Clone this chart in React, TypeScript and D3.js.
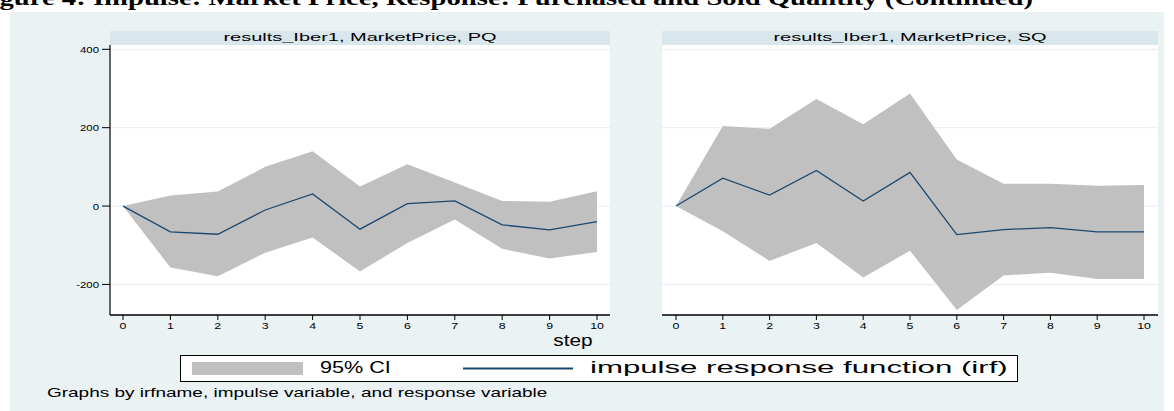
import * as d3 from "d3";
import React from "react";

// steps of the impulse response
const steps = [0, 1, 2, 3, 4, 5, 6, 7, 8, 9, 10];

// panel 1: impulse MarketPrice, response PQ
const pqIrf = [0, -66, -72, -10, 31, -59, 6, 13, -48, -61, -40];
const pqLower = [0, -157, -179, -119, -80, -167, -94, -34, -109, -134, -117];
const pqUpper = [0, 27, 37, 100, 140, 50, 107, 60, 13, 11, 38];

// panel 2: impulse MarketPrice, response SQ
const sqIrf = [0, 71, 28, 91, 13, 86, -73, -60, -55, -66, -66];
const sqLower = [0, -64, -140, -94, -182, -114, -265, -177, -170, -186, -186];
const sqUpper = [0, 204, 197, 273, 209, 287, 119, 57, 57, 52, 54];

const yTicks = [-200, 0, 200, 400];
const panelTitles = ["results_Iber1, MarketPrice, PQ", "results_Iber1, MarketPrice, SQ"];
const legendLabels = ["95% CI", "impulse response function (irf)"];
const xTitle = "step";
const note = "Graphs by irfname, impulse variable, and response variable";
const figTitle = "Figure 4: Impulse: Market Price, Response: Purchased and Sold Quantity (Continued)";

const W = 1174;
const H = 411;
const BG = "#eaf2f3";
const HEAD = "#d9e6eb";
const GRID = "#e4eef1";
const CI = "#c0c0c0";
const IRF = "#1a476f";
const FONT = "'Liberation Sans', Arial, Helvetica, sans-serif";

const plotTop = 45;
const plotBottom = 315;
const panels = [
  { left: 110, right: 610, pad: 13, irf: pqIrf, lo: pqLower, hi: pqUpper, title: panelTitles[0], yAxis: true },
  { left: 662, right: 1158, pad: 14, irf: sqIrf, lo: sqLower, hi: sqUpper, title: panelTitles[1], yAxis: false },
];

const y = d3.scaleLinear().domain([-278, 411]).range([plotBottom, plotTop]);

// stata text is stretched sideways in this picture
function SText({ x, y, size, anchor = "start", sx = 1.5, fill = "#000", children }: any) {
  return (
    <text
      transform={`translate(${x},${y}) scale(${sx},1)`}
      fontSize={size}
      fontFamily={FONT}
      textAnchor={anchor}
      fill={fill}
    >
      {children}
    </text>
  );
}

function Panel({ p }: any) {
  const x = d3.scaleLinear().domain([0, 10]).range([p.left + p.pad, p.right - p.pad]);
  const rows = steps.map((s, i) => ({ s, irf: p.irf[i], lo: p.lo[i], hi: p.hi[i] }));
  const area = d3.area<any>().x(d => x(d.s)).y0(d => y(d.lo)).y1(d => y(d.hi));
  const line = d3.line<any>().x(d => x(d.s)).y(d => y(d.irf));
  return (
    <g>
      <rect x={p.left} y={31} width={p.right - p.left} height={plotTop - 31} fill={HEAD} />
      <SText x={(p.left + p.right) / 2} y={41} size={10} sx={2.0} anchor="middle">{p.title}</SText>
      <rect x={p.left} y={plotTop} width={p.right - p.left} height={plotBottom - plotTop} fill="#fff" />
      {yTicks.map(t => (
        <line key={t} x1={p.left} x2={p.right} y1={y(t)} y2={y(t)} stroke={GRID} strokeWidth={1} />
      ))}
      <path d={area(rows) || ""} fill={CI} />
      <path d={line(rows) || ""} fill="none" stroke={IRF} strokeWidth={1.3} />
      {p.yAxis && (
        <g>
          <line x1={p.left} x2={p.left} y1={plotTop} y2={plotBottom} stroke="#333" strokeWidth={1.5} />
          {yTicks.map(t => (
            <g key={t}>
              <line x1={p.left - 8} x2={p.left} y1={y(t)} y2={y(t)} stroke="#000" strokeWidth={1} />
              <SText x={p.left - 11} y={y(t) + 3.5} size={9.5} sx={1.2} anchor="end">{t}</SText>
            </g>
          ))}
        </g>
      )}
      <line x1={p.left} x2={p.right} y1={plotBottom} y2={plotBottom} stroke="#000" strokeWidth={1.5} />
      {steps.map(s => (
        <g key={s}>
          <line x1={x(s)} x2={x(s)} y1={plotBottom} y2={plotBottom + 5} stroke="#000" strokeWidth={1} />
          <SText x={x(s)} y={plotBottom + 14} size={9.5} sx={1.3} anchor="middle">{s}</SText>
        </g>
      ))}
    </g>
  );
}

export default function App() {
  return (
    <div style={{ position: "absolute", left: 0, top: 0 }}>
      <svg width={W} height={H} style={{ display: "block", background: "#fff" }}>
        <text
          x={-26}
          y={5}
          fontSize={22}
          fontWeight="bold"
          fontFamily="'Liberation Serif', 'Times New Roman', serif"
          textLength={1059}
          lengthAdjust="spacingAndGlyphs"
        >
          {figTitle}
        </text>
        <rect x={10} y={12} width={1154} height={H - 12} fill={BG} />
        {panels.map((p, i) => (
          <Panel key={i} p={p} />
        ))}
        <SText x={573} y={346} size={16} sx={1.3} anchor="middle">{xTitle}</SText>
        <rect x={180.5} y={355.5} width={837} height={26} fill="#fff" stroke="#000" strokeWidth={1} />
        <rect x={192} y={362} width={111} height={13} fill={CI} />
        <SText x={320} y={373} size={16} sx={1.35}>{legendLabels[0]}</SText>
        <line x1={463} x2={573} y1={368.5} y2={368.5} stroke={IRF} strokeWidth={2} />
        <SText x={590} y={373} size={16} sx={1.95}>{legendLabels[1]}</SText>
        <SText x={47} y={397} size={12} sx={1.58}>{note}</SText>
      </svg>
    </div>
  );
}
